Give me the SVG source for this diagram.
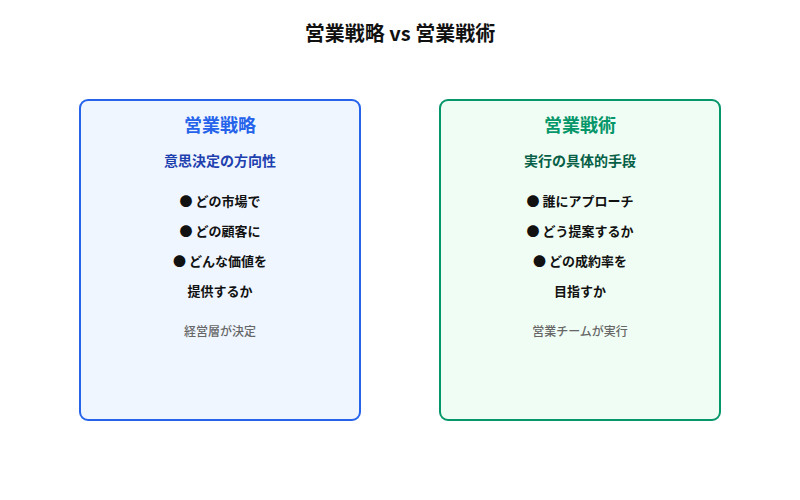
<svg xmlns="http://www.w3.org/2000/svg" width="800" height="500" viewBox="0 0 800 500">
<style>
text{font-family:"Noto Sans CJK JP","Noto Sans",sans-serif;text-anchor:middle;dominant-baseline:central}
.title{font-size:20px;font-weight:700;fill:#111}
.h{font-size:18px;font-weight:700}
.sub{font-size:14px;font-weight:700}
.item{font-size:13px;font-weight:700;fill:#111}
.note{font-size:12px;font-weight:500;fill:#666}
</style>
<rect width="800" height="500" fill="#fff"/>
<text class="title" x="400" y="32">営業戦略 vs 営業戦術</text>
<g id="strategy">
<rect x="80" y="100" width="280" height="320" rx="8" fill="#eff6ff" stroke="#2563eb" stroke-width="2"/>
<text class="h" x="220" y="124" fill="#2563eb">営業戦略</text>
<text class="sub" x="220" y="160" fill="#1e40af">意思決定の方向性</text>
<text class="item" x="220" y="200">● どの市場で</text>
<text class="item" x="220" y="230">● どの顧客に</text>
<text class="item" x="220" y="260">● どんな価値を</text>
<text class="item" x="220" y="290">提供するか</text>
<text class="note" x="220" y="330">経営層が決定</text>
</g>
<g id="tactics">
<rect x="440" y="100" width="280" height="320" rx="8" fill="#f0fdf4" stroke="#059669" stroke-width="2"/>
<text class="h" x="580" y="124" fill="#059669">営業戦術</text>
<text class="sub" x="580" y="160" fill="#065f46">実行の具体的手段</text>
<text class="item" x="580" y="200">● 誰にアプローチ</text>
<text class="item" x="580" y="230">● どう提案するか</text>
<text class="item" x="580" y="260">● どの成約率を</text>
<text class="item" x="580" y="290">目指すか</text>
<text class="note" x="580" y="330">営業チームが実行</text>
</g>
<g id="connectors"/>
</svg>
